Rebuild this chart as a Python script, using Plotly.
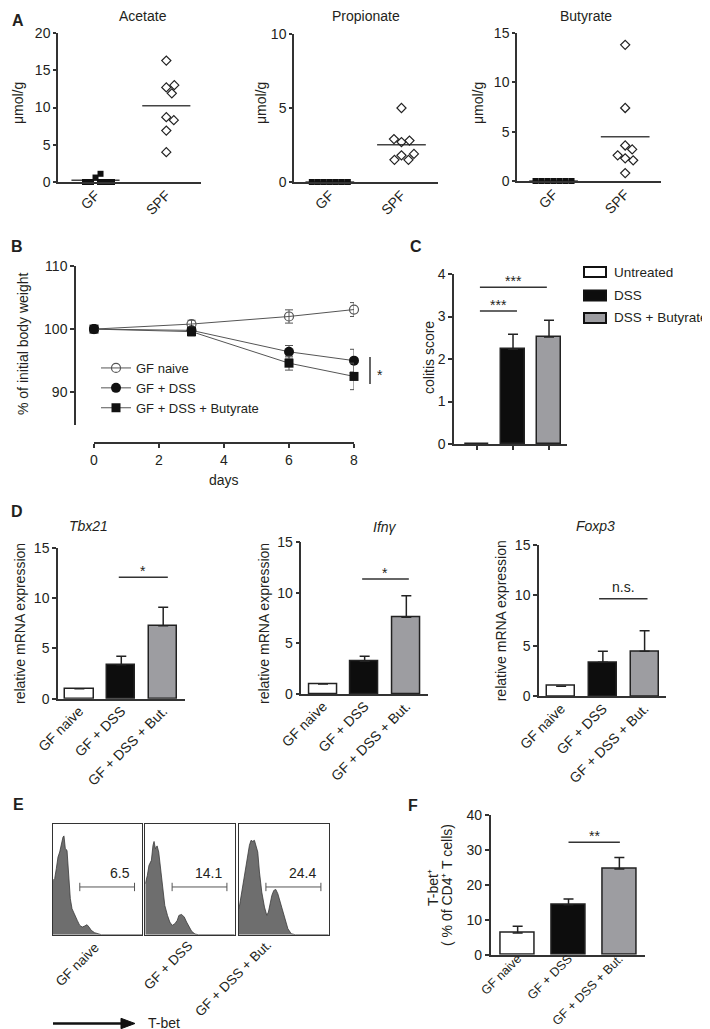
import plotly.graph_objects as go

W, H = 710, 1029
FONT = "Liberation Sans, Arial, Helvetica, sans-serif"
TXT = "#231f20"
AXC = "#333333"
GRP_FILL = ["#ffffff", "#0d0d0d", "#9d9da1"]

# ====================== DATA ======================
# Panel A - SCFA concentrations (umol/g)
A_titles = ["Acetate", "Propionate", "Butyrate"]
A_groups = ["GF", "SPF"]
A_acetate_GF = [0.6, 0.0, 0.0, 1.1, 0.0, 0.0, 0.0]
A_acetate_SPF = [16.3, 12.7, 13.0, 11.9, 8.7, 8.3, 6.9, 4.0]
A_propionate_GF = [0.0, 0.0, 0.0, 0.0, 0.0, 0.0, 0.0]
A_propionate_SPF = [5.0, 2.7, 2.8, 2.9, 1.8, 1.5, 1.5, 1.9]
A_butyrate_GF = [0.0, 0.0, 0.0, 0.0, 0.0, 0.0, 0.0]
A_butyrate_SPF = [13.8, 7.4, 3.6, 3.2, 2.3, 2.1, 2.6, 0.8]
A_ymax = [20, 10, 15]
A_ylabel = "μmol/g"

# Panel B - body weight
B_days = [0, 3, 6, 8]
B_names = ["GF naive", "GF + DSS", "GF + DSS + Butyrate"]
B_naive = [100.0, 100.8, 102.0, 103.1]
B_naive_sem = [0.0, 0.6, 1.05, 1.1]
B_dss = [100.0, 99.8, 96.4, 95.0]
B_dss_sem = [0.0, 0.5, 1.0, 1.8]
B_but = [100.0, 99.6, 94.6, 92.5]
B_but_sem = [0.0, 0.7, 1.1, 2.1]
B_yticks = [90, 100, 110]
B_xticks = [0, 2, 4, 6, 8]

# Panel C - colitis score
C_groups = ["Untreated", "DSS", "DSS + Butyrate"]
C_score = [0.0, 2.23, 2.52]
C_sem = [0.0, 0.35, 0.39]
C_yticks = [0, 1, 2, 3, 4]

# Panel D - relative mRNA expression
D_genes = ["Tbx21", "Ifnγ", "Foxp3"]
D_groups = ["GF naive", "GF + DSS", "GF + DSS + But."]
D_tbx21 = [1.0, 3.39, 7.27]
D_tbx21_sem = [0.0, 0.83, 1.83]
D_ifng = [1.0, 3.23, 7.58]
D_ifng_sem = [0.0, 0.50, 2.14]
D_foxp3 = [1.0, 3.36, 4.45]
D_foxp3_sem = [0.0, 1.09, 2.04]
D_sig = ["*", "*", "n.s."]
D_yticks = [0, 5, 10, 15]

# Panel E - T-bet histograms (x: % of axis, y: % of max)
E_groups = ["GF naive", "GF + DSS", "GF + DSS + But."]
E_gate_pct = ["6.5", "14.1", "24.4"]
E_gate = [30.0, 91.3]
E_naive_x = [0, 1.9, 3.7, 5.6, 7.5, 9.3, 11.2, 12.3, 13.8, 15.7, 17.5, 19.4, 21.3, 24.3,
             27.2, 29.9, 32.8, 35.4, 38.1, 40.3, 42.9, 46.6, 50.4, 54.1, 100]
E_naive_y = [48.9, 50.5, 59.5, 70.0, 74.5, 82.0, 88.0, 89.0, 77.5, 76.0, 50.5, 32.4, 23.4, 17.4,
             12.9, 8.4, 6.9, 7.8, 9.0, 6.9, 3.9, 1.8, 0.6, 0.0, 0.0]
E_dss_x = [0, 2.3, 4.1, 6.8, 8.6, 9.8, 11.3, 13.2, 15.0, 17.3, 19.2, 21.8, 24.8, 27.4, 30.1,
           33.1, 35.7, 37.6, 40.6, 43.6, 46.2, 48.9, 51.9, 55.6, 59.4, 100]
E_dss_y = [45.9, 53.5, 62.5, 67.0, 80.5, 84.0, 77.5, 80.0, 74.5, 59.5, 44.5, 26.4, 17.4, 11.4,
           8.4, 9.9, 12.9, 17.4, 18.3, 15.9, 11.4, 6.9, 3.0, 0.6, 0.0, 0.0]
E_but_x = [0, 3.0, 5.6, 8.6, 11.6, 13.4, 15.3, 17.2, 19.0, 20.9, 22.8, 25.4, 28.4, 31.0, 32.8,
           34.7, 36.6, 38.8, 41.0, 43.3, 45.9, 48.9, 51.5, 54.5, 58.2, 62.7, 100]
E_but_y = [23.4, 38.4, 53.5, 68.5, 80.5, 85.0, 84.1, 85.0, 79.0, 74.5, 56.5, 38.4, 24.9, 17.4,
           20.4, 27.9, 35.4, 39.9, 40.8, 36.9, 29.4, 21.9, 14.4, 5.4, 0.9, 0.0, 0.0]

# Panel F - T-bet+ % of CD4+ T cells
F_tbet = [6.2, 14.3, 24.5]
F_tbet_sem = [1.9, 1.6, 3.3]
F_sig = "**"
F_yticks = [0, 10, 20, 30, 40]

# ====================== HELPERS ======================
fig = go.Figure()
L = dict(width=W, height=H, margin=dict(l=0, r=0, t=0, b=0),
         paper_bgcolor="white", plot_bgcolor="rgba(0,0,0,0)",
         font=dict(family=FONT, size=14, color=TXT))
ann = []
shp = []


def pxx(p):
    return p / W


def pxy(p):
    return 1 - p / H


def base_axis():
    return dict(showline=True, linecolor=AXC, linewidth=1.5, showgrid=False, zeroline=False,
                ticks="outside", ticklen=4, tickwidth=1.5, tickcolor=AXC,
                tickfont=dict(family=FONT, size=14, color=TXT), automargin=False,
                fixedrange=True)


def make_axes(n, xpx, ypx, xr, yr, xo=None, yo=None):
    xa = base_axis()
    ya = base_axis()
    sfx = "" if n == 1 else str(n)
    xa.update(domain=[pxx(xpx[0]), pxx(xpx[1])], range=xr, anchor="y" + sfx)
    ya.update(domain=[pxy(ypx[1]), pxy(ypx[0])], range=yr, anchor="x" + sfx)
    if xo:
        xa.update(xo)
    if yo:
        ya.update(yo)
    L["xaxis" + sfx] = xa
    L["yaxis" + sfx] = ya
    return "x" + sfx, "y" + sfx


def text(x, y, s, size=14, xanchor="center", yanchor="middle", angle=0, bold=False,
         italic=False, xref="paper", yref="paper", yshift=0):
    if xref == "paper":
        x = pxx(x)
    if yref == "paper":
        y = pxy(y)
    if bold:
        s = "<b>" + s + "</b>"
    if italic:
        s = "<i>" + s + "</i>"
    ann.append(dict(x=x, y=y, xref=xref, yref=yref, text=s, showarrow=False,
                    xanchor=xanchor, yanchor=yanchor, textangle=angle, yshift=yshift,
                    font=dict(family=FONT, size=size, color=TXT)))


def swarm(vals, y_ppu, x_ppc, diam):
    placed, offs = [], []
    for v in vals:
        yp = v * y_ppu
        k = 0
        off = None
        while off is None:
            cands = [0.0] if k == 0 else [k * 0.5, -k * 0.5]
            for c in cands:
                if all((c - a) ** 2 + (yp - b) ** 2 >= diam ** 2 - 1e-9 for a, b in placed):
                    off = c
                    break
            k += 1
        placed.append((off, yp))
        offs.append(off / x_ppc)
    return offs


def sig_line(xa, ya, x0, x1, y, label, yshift):
    shp.append(dict(type="line", xref=xa, yref=ya, x0=x0, x1=x1, y0=y, y1=y,
                    line=dict(color=AXC, width=1.5)))
    text((x0 + x1) / 2, y, label, size=14, xanchor="center", yanchor="bottom",
         xref=xa, yref=ya, yshift=yshift)


def bars(xa, ya, vals, sem, width):
    fig.add_trace(go.Bar(
        x=[0, 1, 2], y=vals, width=width, xaxis=xa, yaxis=ya, showlegend=False,
        marker=dict(color=GRP_FILL, line=dict(color="#222222", width=1.5)),
        error_y=dict(type="data", array=sem, arrayminus=[0] * len(sem), symmetric=False,
                     color="#222222", thickness=1.5, width=5),
    ))


# ====================== PANEL A ======================
A_geo = [((50, 193), (25, 174), [-0.53, 1.49]),
         ((286, 430), (26, 174), [-0.5, 1.51]),
         ((509, 653), (25, 173), [-0.51, 1.5])]
A_title_pos = [(135, 8), (358, 8), (578, 8)]
A_ylab_x = [10, 253, 470]
A_data = [(A_acetate_GF, A_acetate_SPF), (A_propionate_GF, A_propionate_SPF),
          (A_butyrate_GF, A_butyrate_SPF)]

for k in range(3):
    (xp, yp, xr) = A_geo[k]
    ymax = A_ymax[k]
    xa, ya = make_axes(k + 1, xp, yp, xr, [0, ymax],
                       xo=dict(tickvals=[0, 1], ticktext=A_groups, tickangle=-45, ticks="",
                               ticklabelstandoff=-2),
                       yo=dict(tick0=0, dtick=5, ticklen=3))
    y_ppu = (yp[1] - yp[0]) / ymax
    x_ppc = (xp[1] - xp[0]) / (xr[1] - xr[0])
    gf, spf = A_data[k]
    for gi, vals in enumerate([gf, spf]):
        m = sum(vals) / len(vals)
        fig.add_trace(go.Scatter(x=[gi - 0.34, gi + 0.34], y=[m, m], mode="lines",
                                 line=dict(color="#444444", width=1.5), xaxis=xa, yaxis=ya,
                                 showlegend=False, cliponaxis=False, hoverinfo="skip"))
    offs = swarm(gf, y_ppu, x_ppc, 6.0)
    fig.add_trace(go.Scatter(x=[0 + o for o in offs], y=gf, mode="markers",
                             marker=dict(symbol="square", size=6, color="#111111"),
                             xaxis=xa, yaxis=ya, showlegend=False, cliponaxis=False))
    offs = swarm(spf, y_ppu, x_ppc, 8.0)
    fig.add_trace(go.Scatter(x=[1 + o for o in offs], y=spf, mode="markers",
                             marker=dict(symbol="diamond-open", size=7, color="#222222",
                                         line=dict(width=1.2)),
                             xaxis=xa, yaxis=ya, showlegend=False, cliponaxis=False))
    text(A_title_pos[k][0], A_title_pos[k][1], A_titles[k], size=14)
    text(A_ylab_x[k], 95, A_ylabel, size=14, angle=-90)

text(10, 13, "A", size=16, bold=True)

# ====================== PANEL B ======================
xa, ya = make_axes(4, (86, 346), (258, 417), [0, 8], [84.8, 110],
                   xo=dict(anchor="free", position=pxy(435), tickvals=B_xticks),
                   yo=dict(anchor="free", position=pxx(67), tickvals=B_yticks))
B_series = [(B_naive, B_naive_sem, dict(symbol="circle-open", size=9, color="#555555",
                                          line=dict(width=1.2))),
            (B_dss, B_dss_sem, dict(symbol="circle", size=10, color="#111111")),
            (B_but, B_but_sem, dict(symbol="square", size=9, color="#111111"))]
for name, (vals, sem, mk) in zip(B_names, B_series):
    fig.add_trace(go.Scatter(
        x=B_days, y=vals, name=name, mode="lines+markers", marker=mk,
        line=dict(color="#555555", width=1),
        error_y=dict(type="data", array=sem, color="#555555", thickness=1, width=4),
        xaxis=xa, yaxis=ya, cliponaxis=False, showlegend=True, legend="legend"))
text(216, 472, "days", size=14)
text(15, 336, "% of initial body weight", size=14, angle=-90)
shp.append(dict(type="line", xref="paper", yref="paper", x0=pxx(362), x1=pxx(362),
                y0=pxy(349), y1=pxy(376), line=dict(color=AXC, width=1.5)))
text(372, 367, "*", size=14)
text(9, 238, "B", size=16, bold=True)
L["legend"] = dict(x=pxx(88), y=pxy(345), xanchor="left", yanchor="top",
                   bgcolor="rgba(0,0,0,0)", font=dict(family=FONT, size=13, color=TXT),
                   itemwidth=30, tracegroupgap=0, traceorder="normal")

# ====================== PANEL C ======================
xa, ya = make_axes(5, (446, 559), (266, 436), [-0.64, 2.5], [0, 4],
                   xo=dict(tickvals=[0, 1, 2], showticklabels=False),
                   yo=dict(tickvals=C_yticks))
bars(xa, ya, C_score, C_sem, 0.69)
sig_line(xa, ya, 0.08, 1.94, 3.69, "***", -4)
sig_line(xa, ya, 0.08, 1.11, 3.13, "***", -4)
text(421, 350, "colitis score", size=14, angle=-90)
text(408, 238, "C", size=16, bold=True)
C_leg_y = [264, 287.5, 310]
for name, fill, yy in zip(C_groups, GRP_FILL, C_leg_y):
    shp.append(dict(type="rect", xref="paper", yref="paper", x0=pxx(576), x1=pxx(598),
                    y0=pxy(yy + 5), y1=pxy(yy - 5), fillcolor=fill,
                    line=dict(color="#111111", width=2)))
    text(604, yy, name, size=13.5, xanchor="left")

# ====================== PANEL D ======================
D_geo = [((50, 177), (540, 690.7), [-0.51, 2.52]),
         ((293.3, 420), (534.3, 686), [-0.52, 2.52]),
         ((531, 658.3), (536.7, 688.3), [-0.53, 2.52])]
D_vals = [(D_tbx21, D_tbx21_sem), (D_ifng, D_ifng_sem), (D_foxp3, D_foxp3_sem)]
D_sig_geo = [(0.94, 2.11, 12.09), (0.94, 2.06, 11.37), (0.91, 2.07, 9.65)]
D_title_pos = [(80.5, 518.3), (376.7, 519.3), (587.8, 518.3)]
D_ylab = [(12, 616), (256, 616), (493.3, 613)]
for k in range(3):
    xp, yp, xr = D_geo[k]
    xa, ya = make_axes(6 + k, xp, yp, xr, [0, 15],
                       xo=dict(tickvals=[0, 1, 2], ticktext=D_groups, tickangle=-45, ticks="",
                               ticklabelstandoff=-3),
                       yo=dict(tickvals=D_yticks))
    bars(xa, ya, D_vals[k][0], D_vals[k][1], 0.675)
    x0, x1, yy = D_sig_geo[k]
    sig_line(xa, ya, x0, x1, yy, D_sig[k], -4 if D_sig[k] != "n.s." else 2)
    text(D_title_pos[k][0], D_title_pos[k][1], D_genes[k], size=14, italic=True)
    text(D_ylab[k][0], D_ylab[k][1], "relative mRNA expression", size=14, angle=-90)
text(9, 503, "D", size=16, bold=True)

# ====================== PANEL E ======================
E_geo = [(45, 134.3), (137.3, 226.7), (231, 320.7)]
E_lab_corner = [(97, 929), (190, 927), (269, 927)]
E_hist = [(E_naive_x, E_naive_y), (E_dss_x, E_dss_y), (E_but_x, E_but_y)]
for k in range(3):
    xa, ya = make_axes(9 + k, E_geo[k], (815.7, 926.7), [0, 100], [0, 100],
                       xo=dict(mirror=True, ticks="", showticklabels=False, linewidth=1.2),
                       yo=dict(mirror=True, ticks="", showticklabels=False, linewidth=1.2))
    hx, hy = E_hist[k]
    fig.add_trace(go.Scatter(x=hx, y=hy, mode="lines", fill="tozeroy",
                             fillcolor="#6e6e6e", line=dict(color="#3a3a3a", width=0.8),
                             xaxis=xa, yaxis=ya, showlegend=False, hoverinfo="skip"))
    fig.add_trace(go.Scatter(x=E_gate, y=[43, 43], mode="lines+markers",
                             line=dict(color="#555555", width=1),
                             marker=dict(symbol="line-ns-open", size=6,
                                         line=dict(color="#555555", width=1)),
                             xaxis=xa, yaxis=ya, showlegend=False, hoverinfo="skip"))
    text(88.5, 55.5, E_gate_pct[k], size=14, xanchor="right", xref=xa, yref=ya)
    text(E_lab_corner[k][0], E_lab_corner[k][1], E_groups[k], size=13.5,
         xanchor="right", yanchor="top", angle=-45)
text(10, 796, "E", size=16, bold=True)
# arrow (T-bet axis direction)
shp.append(dict(type="line", xref="paper", yref="paper", x0=pxx(45), x1=pxx(115),
                y0=pxy(1015.5), y1=pxy(1015.5), line=dict(color="#111111", width=2.5)))
shp.append(dict(type="path", xref="paper", yref="paper",
                path="M {:.5f} {:.5f} L {:.5f} {:.5f} L {:.5f} {:.5f} Z".format(
                    pxx(113), pxy(1010.3), pxx(127), pxy(1015.5), pxx(113), pxy(1020.7)),
                fillcolor="#111111", line=dict(color="#111111", width=1)))
text(138, 1014.5, "T-bet", size=14, xanchor="left")

# ====================== PANEL F ======================
xa, ya = make_axes(12, (482.7, 637.3), (806.7, 946.7), [-0.53, 2.51], [0, 40],
                   xo=dict(tickvals=[0, 1, 2], ticktext=D_groups, tickangle=-45, ticks="",
                           ticklabelstandoff=-10,
                           tickfont=dict(family=FONT, size=12.5, color=TXT)),
                   yo=dict(tickvals=F_yticks))
bars(xa, ya, F_tbet, F_tbet_sem, 0.667)
sig_line(xa, ya, 1.0, 2.01, 32.1, F_sig, -4)
text(425, 880, "T-bet⁺", size=14, angle=-90)
text(438.5, 876.5, "( % 0f CD4⁺ T cells)", size=14, angle=-90)
text(405, 797, "F", size=16, bold=True)

L["annotations"] = ann
L["shapes"] = shp
L["bargap"] = 0
fig.update_layout(**L)
fig.write_html("out.html")
